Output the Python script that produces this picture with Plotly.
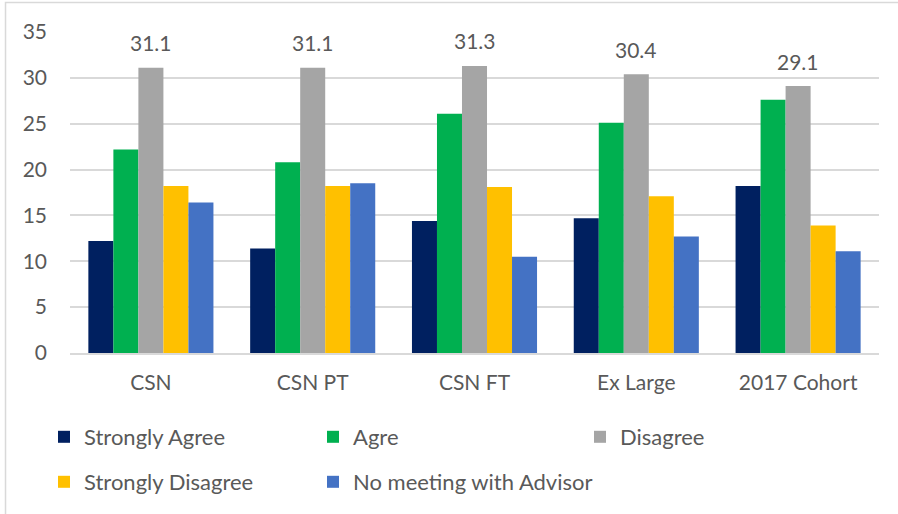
import plotly.graph_objects as go

categories = ["CSN", "CSN PT", "CSN FT", "Ex Large", "2017 Cohort"]
series_names = ["Strongly Agree", "Agre", "Disagree", "Strongly Disagree", "No meeting with Advisor"]
strongly_agree = [12.2, 11.4, 14.4, 14.7, 18.2]
agree = [22.2, 20.8, 26.1, 25.1, 27.6]
disagree = [31.1, 31.1, 31.3, 30.4, 29.1]
strongly_disagree = [18.2, 18.2, 18.1, 17.1, 13.9]
no_meeting = [16.4, 18.5, 10.5, 12.7, 11.1]
y_ticks = [0, 5, 10, 15, 20, 25, 30, 35]

colors = ["#002060", "#00B050", "#A5A5A5", "#FFC000", "#4472C4"]
values = [strongly_agree, agree, disagree, strongly_disagree, no_meeting]
legend_ids = ["legend", "legend2", "legend3", "legend4", "legend5"]
# legend placement (container pixels): column text start, row centre
legend_pos = [(44, 437), (313, 437), (580, 437), (44, 482), (313, 482)]

FONT = "Lato, Liberation Sans, sans-serif"
TXT = "#595959"
W, H = 898, 514

fig = go.Figure()
for name, vals, col, lg in zip(series_names, values, colors, legend_ids):
    fig.add_trace(go.Bar(x=categories, y=vals, name=name,
                         marker=dict(color=col, line=dict(width=0)), legend=lg))

for c, v in zip(categories, disagree):
    fig.add_annotation(x=c, y=v, text=f"{v:.1f}", showarrow=False, yanchor="middle",
                       yshift=25, font=dict(family=FONT, size=21, color=TXT))

fig.add_shape(type="rect", xref="paper", yref="paper", x0=-0.0797, x1=1.1, y0=-0.6, y1=1.092,
              line=dict(color="#D9D9D9", width=1.5), layer="below")

legend_layouts = {}
for lg, (px, py) in zip(legend_ids, legend_pos):
    legend_layouts[lg] = dict(orientation="h", xref="container", yref="container",
                              x=px / W, y=1 - py / H, xanchor="left", yanchor="middle",
                              font=dict(family=FONT, size=22, color=TXT),
                              bgcolor="rgba(0,0,0,0)")

fig.update_layout(
    width=W, height=H,
    margin=dict(l=70, r=19, t=32, b=161),
    paper_bgcolor="white", plot_bgcolor="white",
    barmode="group", bargap=0.227, bargroupgap=0,
    showlegend=True,
    xaxis=dict(showgrid=False, showline=True, linecolor="#D9D9D9", linewidth=2,
               tickfont=dict(family=FONT, size=21, color=TXT), ticks="", ticklabelstandoff=10),
    yaxis=dict(range=[0, 35], tickvals=y_ticks, showgrid=True, gridcolor="#D9D9D9", gridwidth=2,
               zeroline=False, showline=False,
               tickfont=dict(family=FONT, size=21, color=TXT), ticks="", ticklabelstandoff=22),
    **legend_layouts,
)

fig.write_html("out.html", config={"displayModeBar": False},
               post_script="document.body.style.margin='0';document.body.style.overflow='hidden';")
